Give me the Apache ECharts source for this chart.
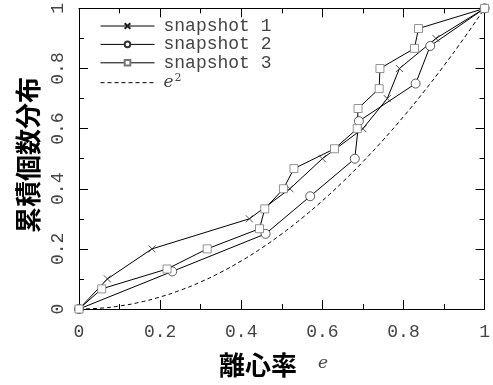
<!DOCTYPE html>
<html>
<head>
<meta charset="utf-8">
<script src="https://cdn.jsdelivr.net/npm/echarts@6/dist/echarts.min.js"></script>
<style>
  html, body { margin: 0; padding: 0; background: #fff; }
  #chart { width: 493px; height: 385px; }
</style>
</head>
<body>
<div id="chart"></div>
<script>
// Cumulative distribution of eccentricity for three snapshots
const snap1X = [0, 0.07, 0.18, 0.42, 0.52, 0.60, 0.70, 0.76, 0.79, 0.88, 1];
const snap1Y = [0, 0.1, 0.2, 0.3, 0.4, 0.5, 0.6, 0.7, 0.8, 0.9, 1];

const snap2X = [0, 0.23, 0.46, 0.57, 0.68, 0.69, 0.83, 0.866, 1];
const snap2Y = [0, 0.125, 0.25, 0.375, 0.5, 0.625, 0.75, 0.875, 1];

const snap3X = [0, 0.056, 0.217, 0.316, 0.445, 0.458, 0.504, 0.53, 0.63, 0.686, 0.688, 0.74, 0.742, 0.827, 0.837, 1];
const snap3Y = [0, 0.067, 0.133, 0.2, 0.267, 0.333, 0.4, 0.467, 0.533, 0.6, 0.667, 0.733, 0.8, 0.867, 0.933, 1];

// reference curve e^2
const refX = [0, 0.05, 0.1, 0.15, 0.2, 0.25, 0.3, 0.35, 0.4, 0.45, 0.5, 0.55, 0.6, 0.65, 0.7, 0.75, 0.8, 0.85, 0.9, 0.95, 1];
const refY = [0, 0.0025, 0.01, 0.0225, 0.04, 0.0625, 0.09, 0.1225, 0.16, 0.2025, 0.25, 0.3025, 0.36, 0.4225, 0.49, 0.5625, 0.64, 0.7225, 0.81, 0.9025, 1];

const seriesNames = ['snapshot 1', 'snapshot 2', 'snapshot 3', 'e2'];
const xTickLabels = { 0: '0', 0.2: '0.2', 0.4: '0.4', 0.6: '0.6', 0.8: '0.8', 1: '1' };
const yTickLabels = { 0: '0', 0.2: '0.2', 0.4: '0.4', 0.6: '0.6', 0.8: '0.8', 1: '1' };

const zip = (xs, ys) => xs.map((x, i) => [x, ys[i]]);
const labelFont = '"Liberation Mono", "DejaVu Sans Mono", monospace';
const serifFont = '"DejaVu Serif", serif';
const labelColor = '#444';
const ink = '#000';

function axisBase(extra) {
  return Object.assign({
    type: 'value', min: 0, max: 1, interval: 0.2,
    axisLine: { show: true, onZero: false, lineStyle: { color: ink, width: 1 } },
    axisTick: { show: true, inside: true, length: 9, lineStyle: { color: ink, width: 1 } },
    minorTick: { show: true, splitNumber: 2, length: 5, lineStyle: { color: ink, width: 1 } },
    splitLine: { show: false },
    minorSplitLine: { show: false }
  }, extra);
}

const chart = echarts.init(document.getElementById('chart'), null, { renderer: 'canvas' });
chart.setOption({
  animation: false,
  backgroundColor: '#fff',
  grid: { left: 79, right: 3, top: 8, bottom: 76, containLabel: false },
  xAxis: [
    axisBase({
      position: 'bottom',
      axisLabel: {
        show: true, margin: 14, fontFamily: labelFont, fontSize: 18, color: labelColor,
        formatter: v => xTickLabels[+v.toFixed(1)] ?? ''
      }
    }),
    axisBase({ position: 'top', axisLabel: { show: false } })
  ],
  yAxis: [
    axisBase({
      position: 'left',
      axisLabel: {
        show: true, margin: 12, rotate: 90, fontFamily: labelFont, fontSize: 18, color: labelColor,
        formatter: v => yTickLabels[+v.toFixed(1)] ?? ''
      }
    }),
    axisBase({ position: 'right', axisLabel: { show: false } })
  ],
  legend: {
    orient: 'vertical',
    left: 100, top: 17, padding: 0,
    itemWidth: 54, itemHeight: 7, itemGap: 0.4,
    data: [
      { name: seriesNames[0], lineStyle: { color: ink, width: 1 } },
      { name: seriesNames[1], lineStyle: { color: ink, width: 1 } },
      { name: seriesNames[2], lineStyle: { color: ink, width: 1 } },
      { name: seriesNames[3], lineStyle: { color: ink, width: 1 }, itemStyle: { opacity: 0 } }
    ],
    formatter: name => name === 'e2' ? '{i|e}{s|2}' : name,
    textStyle: {
      fontFamily: labelFont, fontSize: 18, color: labelColor, lineHeight: 18, padding: [0, 0, 0, 4],
      rich: {
        i: { fontFamily: serifFont, fontStyle: 'italic', fontSize: 17, color: labelColor },
        s: { fontFamily: serifFont, fontSize: 11, color: labelColor, padding: [0, 0, 10, 1] }
      }
    }
  },
  graphic: [
    {
      type: 'text', x: 28, y: 155, rotation: Math.PI / 2,
      style: {
        text: '累積個数分布', fill: '#000',
        font: 'bold 26px "Noto Sans CJK JP"',
        align: 'center', verticalAlign: 'middle'
      }
    },
    {
      type: 'text', x: 258, y: 365,
      style: {
        text: '離心率', fill: '#000',
        font: 'bold 26px "Noto Sans CJK JP"',
        align: 'center', verticalAlign: 'middle'
      }
    },
    {
      type: 'text', x: 323, y: 364,
      style: {
        text: 'e', fill: labelColor,
        font: 'italic 17px "DejaVu Serif"',
        align: 'center', verticalAlign: 'middle'
      }
    }
  ],
  series: [
    {
      name: 'snapshot 1', type: 'line', xAxisIndex: 0, yAxisIndex: 0,
      data: zip(snap1X, snap1Y),
      symbol: 'path://M0,0L10,10M10,0L0,10', symbolSize: 7,
      itemStyle: { color: ink, borderColor: '#222', borderWidth: 0.8 },
      lineStyle: { color: ink, width: 1 }
    },
    {
      name: 'snapshot 2', type: 'line', xAxisIndex: 0, yAxisIndex: 0,
      data: zip(snap2X, snap2Y),
      symbol: 'circle', symbolSize: 9,
      itemStyle: { color: '#fff', borderColor: '#333', borderWidth: 0.8 },
      lineStyle: { color: ink, width: 1 }
    },
    {
      name: 'snapshot 3', type: 'line', xAxisIndex: 0, yAxisIndex: 0,
      data: zip(snap3X, snap3Y),
      symbol: 'rect', symbolSize: 8,
      itemStyle: { color: '#fff', borderColor: '#777', borderWidth: 0.8 },
      lineStyle: { color: ink, width: 1 }
    },
    {
      name: 'e2', type: 'line', xAxisIndex: 0, yAxisIndex: 0,
      data: zip(refX, refY),
      symbol: 'none', smooth: true,
      itemStyle: { color: ink },
      lineStyle: { color: ink, width: 1, type: [4, 3] }
    }
  ]
});
</script>
</body>
</html>
